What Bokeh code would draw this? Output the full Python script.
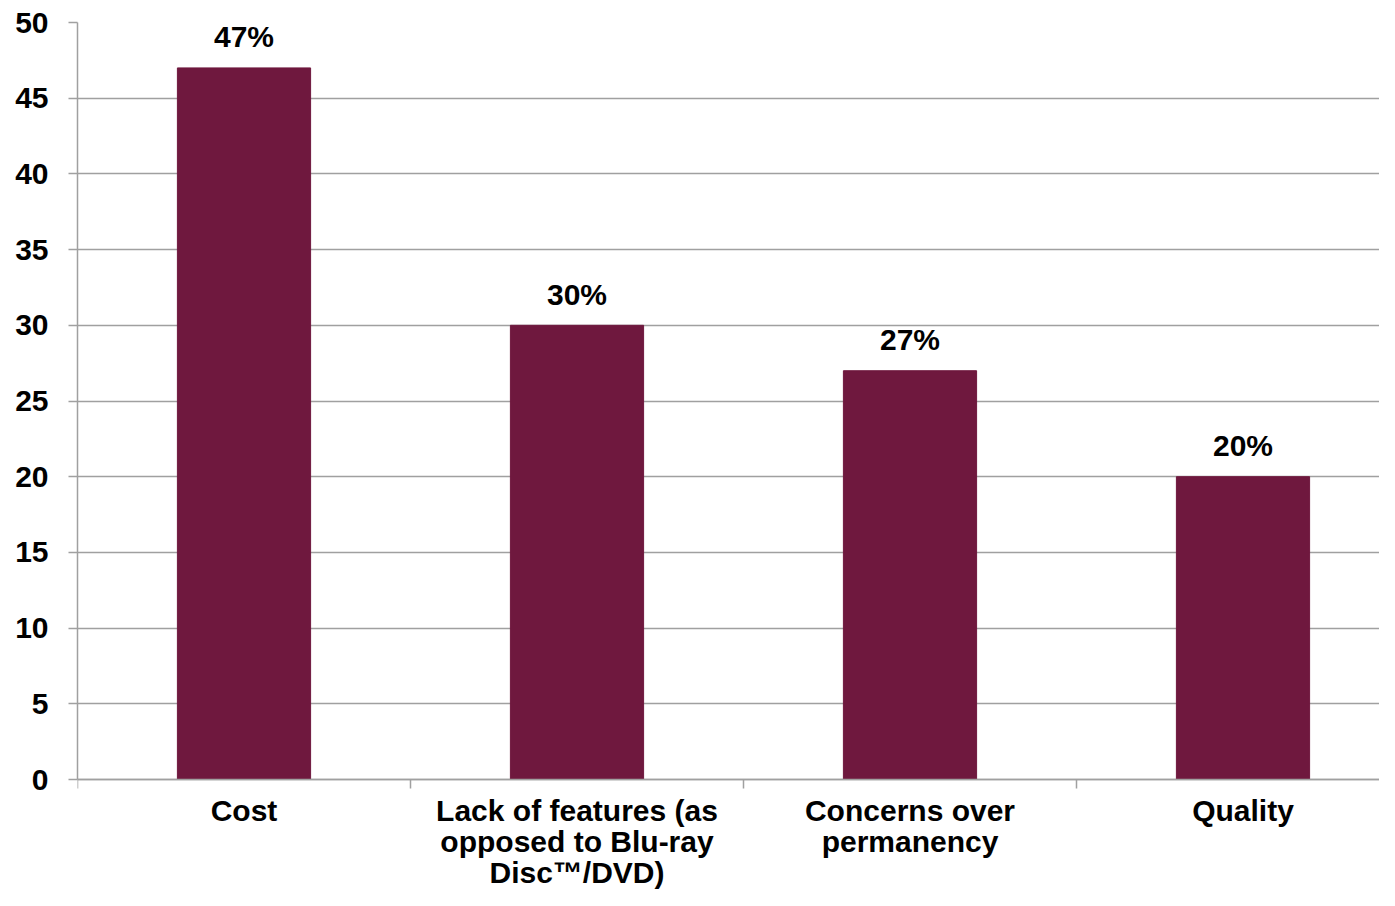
from bokeh.plotting import figure
from bokeh.models import Range1d, FixedTicker, ColumnDataSource
from bokeh.embed import file_html
from bokeh.resources import INLINE
from bokeh.core.properties import value

categories = ["Cost", "Lack of features (as\nopposed to Blu-ray\nDisc\u2122/DVD)",
              "Concerns over\npermanency", "Quality"]
values = [47, 30, 27, 20]
bar_labels = ["47%", "30%", "27%", "20%"]
y_ticks = [0, 5, 10, 15, 20, 25, 30, 35, 40, 45, 50]

FONT = "Liberation Sans"
BAR = "#6F183E"
GRID = "#A0A0A0"

xs = [i + 0.5 for i in range(len(categories))]
src = ColumnDataSource(dict(x=xs, top=values, lab=bar_labels))

# frame: top at 22px, value 0 at 779px, frame bottom at 890px (room for category labels)
p = figure(width=1379, height=890, output_backend="svg", toolbar_location=None,
           x_range=Range1d(0, 1302 / 333), y_range=Range1d(-50 * 111 / 757, 50),
           min_border_left=77, min_border_right=0, min_border_top=22, min_border_bottom=0)
p.outline_line_color = None
p.background_fill_color = "white"
p.border_fill_color = "white"

p.vbar(x="x", top="top", width=0.4, bottom=0, source=src, fill_color=BAR, line_color=BAR)
p.text(x="x", y="top", text="lab", source=src, text_align="center", text_baseline="alphabetic",
       y_offset=-31, text_font=value(FONT), text_font_style="bold", text_font_size="30px",
       text_color="black")

# x axis pinned at value 0
p.xaxis.fixed_location = 0
p.xaxis.ticker = FixedTicker(ticks=xs, minor_ticks=[0, 1, 2, 3, 4])
p.xaxis.major_label_overrides = {x: c for x, c in zip(xs, categories)}
p.xaxis.major_tick_line_color = None
p.xaxis.major_tick_out = 0
p.xaxis.major_tick_in = 0
p.xaxis.minor_tick_line_color = GRID
p.xaxis.minor_tick_out = 9
p.xaxis.minor_tick_in = 0
p.xaxis.minor_tick_line_width = 1.5
p.xaxis.axis_line_color = GRID
p.xaxis.axis_line_width = 1.5
p.xaxis.major_label_standoff = 5
p.xaxis.major_label_text_font = FONT
p.xaxis.major_label_text_font_style = "bold"
p.xaxis.major_label_text_font_size = "30px"
p.xaxis.major_label_text_line_height = 0.95
p.xaxis.major_label_text_color = "black"
p.xgrid.grid_line_color = None

# y axis
p.yaxis.bounds = (0, 50)
p.yaxis.ticker = FixedTicker(ticks=y_ticks, minor_ticks=[])
p.yaxis.major_tick_line_color = GRID
p.yaxis.major_tick_out = 9
p.yaxis.major_tick_in = 0
p.yaxis.major_tick_line_width = 1.5
p.yaxis.axis_line_color = GRID
p.yaxis.axis_line_width = 1.5
p.yaxis.major_label_standoff = 20
p.yaxis.major_label_text_font = FONT
p.yaxis.major_label_text_font_style = "bold"
p.yaxis.major_label_text_font_size = "30px"
p.yaxis.major_label_text_color = "black"
p.ygrid.grid_line_color = GRID
p.ygrid.grid_line_width = 1.5

open("out.html", "w").write(file_html(p, INLINE))
